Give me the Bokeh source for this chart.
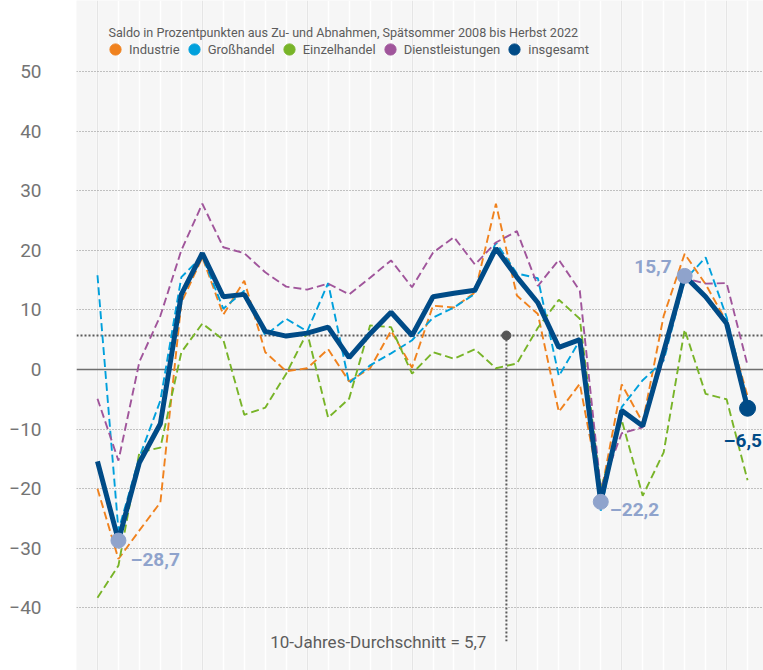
from bokeh.plotting import figure
from bokeh.models import (Range1d, FixedTicker, Grid, Span, Legend, LegendItem,
                          Label, ColumnDataSource)
from bokeh.embed import file_html
from bokeh.resources import INLINE
from bokeh.core.properties import value

# ---------------- data ----------------
TITLE = "Saldo in Prozentpunkten aus Zu- und Abnahmen, Spätsommer 2008 bis Herbst 2022"
SERIES_NAMES = ["Industrie", "Großhandel", "Einzelhandel", "Dienstleistungen", "insgesamt"]

industrie = [-20.0, -31.8, -27.0, -22.3, 11.2, 18.8, 9.2, 14.9, 2.9, -0.3, 0.2, 3.4,
             -2.0, 0.2, 6.5, 0.3, 10.7, 10.4, 12.9, 27.8, 12.4, 9.3, -7.1, -2.4,
             -21.0, -2.5, -8.9, 9.0, 19.4, 14.3, 8.0, -4.5]
grosshandel = [15.8, -27.0, -14.7, -5.2, 15.5, 19.0, 10.2, 13.2, 5.7, 8.5, 6.4, 14.5,
               -2.3, 0.7, 2.7, 4.9, 8.7, 10.4, 12.7, 21.3, 16.1, 15.3, -1.1, 4.9,
               -23.7, -6.3, -1.8, 1.5, 15.0, 18.8, 8.8, -5.5]
einzelhandel = [-38.3, -32.9, -13.9, -13.1, 2.9, 7.7, 5.0, -7.6, -6.4, -0.7, 6.2, -8.1,
                -4.9, 7.4, 7.1, -0.7, 2.9, 1.8, 3.4, 0.2, 1.0, 7.0, 11.7, 8.5,
                -20.0, -8.5, -21.2, -13.9, 6.7, -4.1, -5.0, -18.6]
dienstleistungen = [-4.9, -15.3, 1.3, 9.0, 20.0, 27.8, 20.5, 19.5, 16.3, 13.9, 13.4, 14.4,
                    12.6, 15.4, 18.3, 13.8, 19.6, 22.2, 17.6, 21.3, 23.2, 14.0, 18.4, 13.2,
                    -20.0, -10.7, -9.7, 2.0, 15.3, 14.4, 14.5, 0.7]
insgesamt = [-15.4, -28.7, -15.6, -9.1, 12.6, 19.5, 12.2, 12.6, 6.4, 5.6, 6.1, 7.1,
             2.0, 6.0, 9.6, 5.7, 12.2, 12.8, 13.3, 20.3, 15.5, 11.2, 3.7, 5.0,
             -22.2, -6.9, -9.5, 3.0, 15.7, 12.2, 7.7, -6.5]

AVG_10Y = 5.7
AVG_LABEL = "10-Jahres-Durchschnitt = 5,7"
Y_TICKS = [-40, -30, -20, -10, 0, 10, 20, 30, 40, 50]
HIGHLIGHT_IDX = [1, 24, 28]
LAST_IDX = 31

# ---------------- style ----------------
COLORS = ["#f0821e", "#00a0dc", "#78b428", "#a0559b", "#004b87"]
HILITE = "#8fa3cc"
FONT = "Roboto"
TXT = "#5c5c5c"

n = len(insgesamt)
xs = list(range(n))

p = figure(width=763, height=670, output_backend="svg", toolbar_location=None,
           x_range=Range1d(-1.0, 31.76), y_range=Range1d(-50.5, 61.9),
           x_axis_location=None,
           min_border_left=76, min_border_right=0, min_border_top=0, min_border_bottom=0)
p.background_fill_color = "#f6f6f6"
p.border_fill_color = "white"
p.outline_line_color = None

# y axis
ya = p.yaxis[0]
ya.ticker = FixedTicker(ticks=Y_TICKS)
ya.axis_line_color = None
ya.major_tick_line_color = None
ya.minor_tick_line_color = None
ya.major_tick_out = 0
ya.major_tick_in = 0
ya.major_label_standoff = 35
ya.major_label_text_font = FONT
ya.major_label_text_font_size = "19px"
ya.major_label_text_color = "#747474"

# grids
p.ygrid.ticker = FixedTicker(ticks=[t for t in Y_TICKS if t != 0])
p.ygrid.grid_line_color = "#8a8a8a"
p.ygrid.grid_line_dash = "1 2"
p.ygrid.grid_line_width = 1
vgrid = Grid(dimension=0, ticker=FixedTicker(ticks=xs), grid_line_color="white",
             grid_line_width=1.5, level="image")
p.add_layout(vgrid)

p.add_layout(Span(location=0, dimension="width", line_color="#6e6e6e", line_width=1.5,
                  level="underlay"))
p.add_layout(Span(location=AVG_10Y, dimension="width", line_color="#5a5a5a", line_width=2,
                  line_dash="2 2", level="underlay"))

AVG_X = 19.5
p.segment(x0=[AVG_X], y0=[AVG_10Y], x1=[AVG_X], y1=[-45.6], line_color="#5a5a5a",
          line_width=2, line_dash="2 2", level="underlay")
p.scatter([AVG_X], [AVG_10Y], size=9, color="#555555", level="underlay")
p.add_layout(Label(x=AVG_X, y=-45.8, x_offset=-20, text=AVG_LABEL, text_align="right",
                   text_baseline="alphabetic", text_font=FONT, text_font_size="17px",
                   text_color=TXT))

# series
series = [industrie, grosshandel, einzelhandel, dienstleistungen]
for vals, col in zip(series, COLORS[:4]):
    p.line(xs, vals, line_color=col, line_width=1.9, line_dash="8 4")
p.line(xs, insgesamt, line_color=COLORS[4], line_width=5)

# highlight markers + labels
def fmt(v):
    s = f"{abs(v):.1f}".replace(".", ",")
    return ("–" + s) if v < 0 else s

hx = [xs[i] for i in HIGHLIGHT_IDX]
hy = [insgesamt[i] for i in HIGHLIGHT_IDX]
p.scatter(hx, hy, size=15, color=HILITE)
p.scatter([xs[LAST_IDX]], [insgesamt[LAST_IDX]], size=16, color=COLORS[4])

lab_src = ColumnDataSource(dict(
    x=hx, y=hy, text=[fmt(v) for v in hy],
    xo=[12, 9, -13], yo=[19, 8, -9], align=["left", "left", "right"]))
p.text(x="x", y="y", text="text", x_offset="xo", y_offset="yo", text_align="align",
       text_baseline="middle", text_font=value(FONT), text_font_style="bold",
       text_font_size="19px", text_color=HILITE, source=lab_src)
p.text(x=[xs[LAST_IDX]], y=[insgesamt[LAST_IDX]], text=[fmt(insgesamt[LAST_IDX])],
       x_offset=-24, y_offset=32, text_align="left", text_baseline="middle",
       text_font=value(FONT), text_font_style="bold", text_font_size="19px",
       text_color=COLORS[4])

# legend (size-0 scatter renderers only provide the circle swatches)
items = []
all_series = series + [insgesamt]
for name, col, vals in zip(SERIES_NAMES, COLORS, all_series):
    r = p.scatter(xs, vals, size=0, fill_color=col, line_color=col)
    items.append(LegendItem(label=name, renderers=[r]))
legend = Legend(items=items, orientation="horizontal", location=(25, 607),
                glyph_width=28, glyph_height=28, label_standoff=-4, spacing=0,
                padding=0, margin=0, border_line_color=None, background_fill_alpha=0,
                label_text_font=FONT, label_text_font_size="13px",
                label_text_color=TXT)
p.add_layout(legend)

p.add_layout(Label(x=32, y=638, x_units="screen", y_units="screen", text=TITLE,
                   text_font=FONT, text_font_size="12.6px", text_color=TXT,
                   text_baseline="alphabetic"))

open("out.html", "w").write(file_html(p, INLINE))
